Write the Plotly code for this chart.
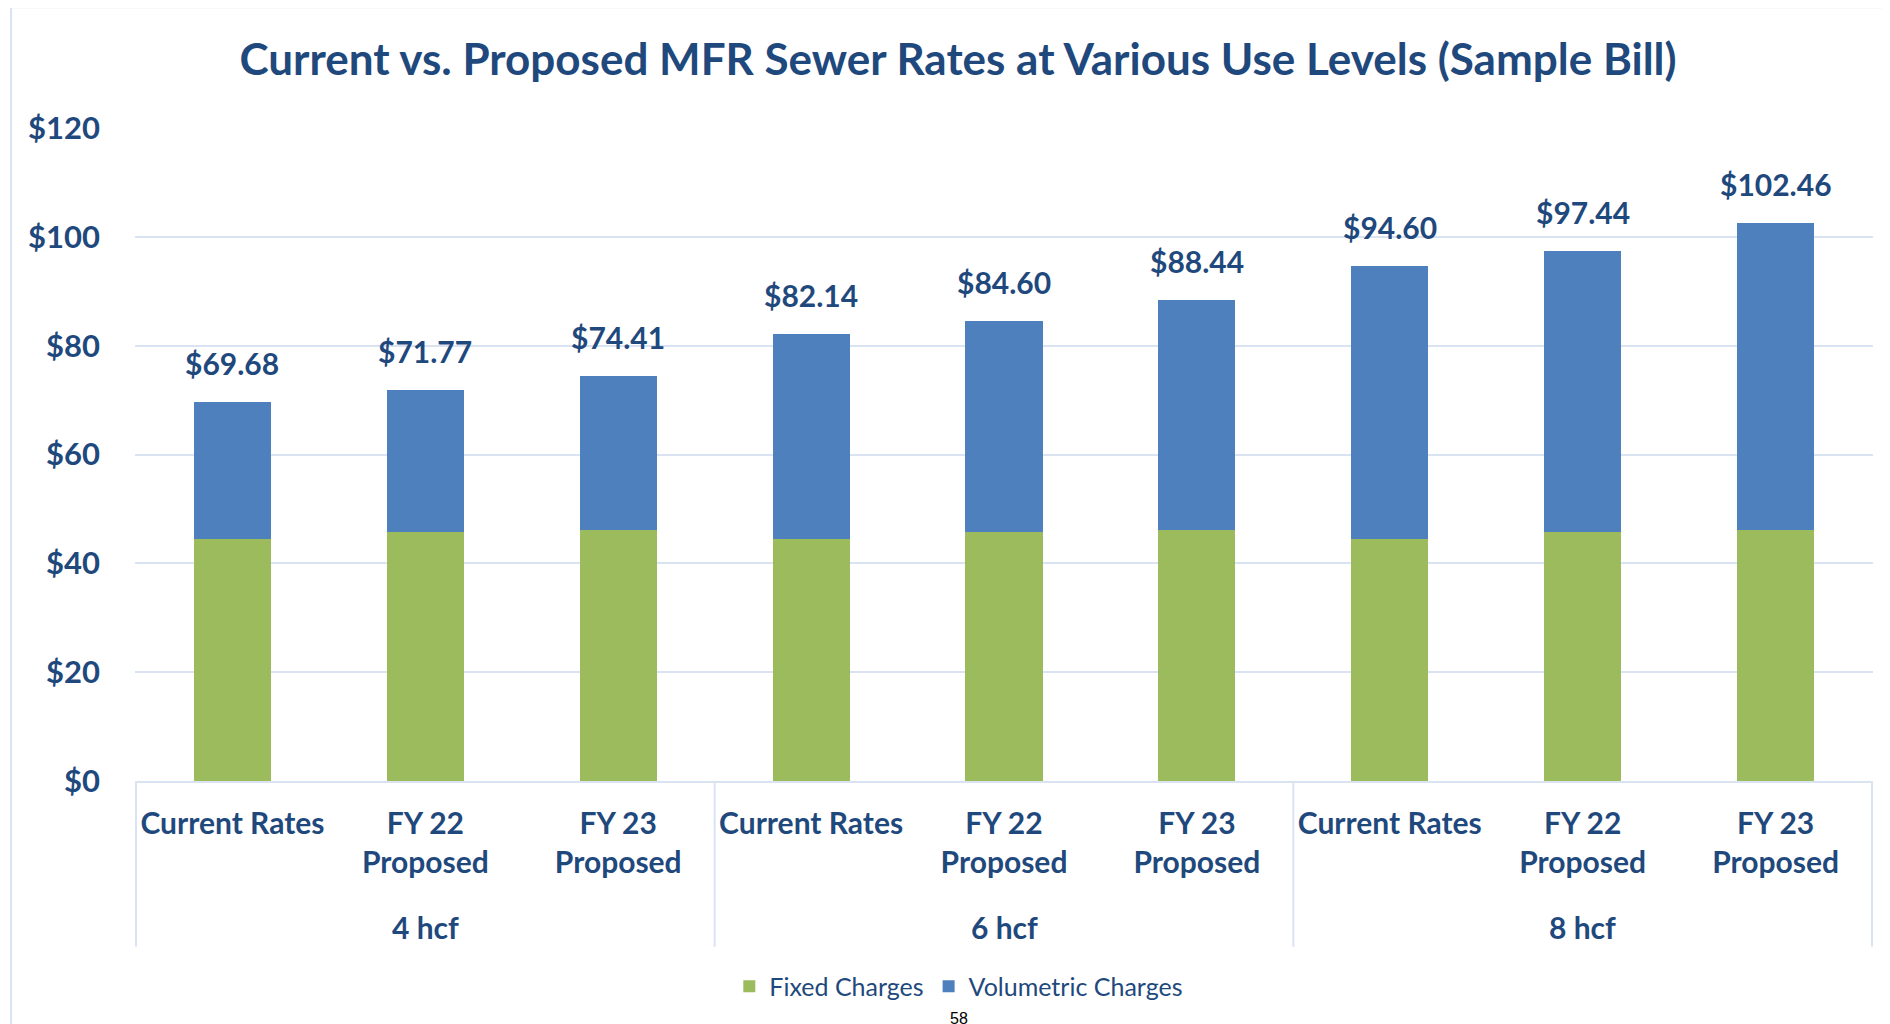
import plotly.graph_objects as go

# data
use_levels = ["4 hcf"] * 3 + ["6 hcf"] * 3 + ["8 hcf"] * 3
rate_types = ["Current Rates", "FY 22<br>Proposed", "FY 23<br>Proposed"] * 3
fixed_charges = [44.50, 45.80, 46.20, 44.50, 45.80, 46.20, 44.50, 45.80, 46.20]
volumetric_charges = [25.18, 25.97, 28.21, 37.64, 38.80, 42.24, 50.10, 51.64, 56.26]
total_bill = [69.68, 71.77, 74.41, 82.14, 84.60, 88.44, 94.60, 97.44, 102.46]

NAVY = "#1F497D"
GRID = "#D9E3F1"
FONT = "Lato"

# unique category keys (rate types repeat across use levels)
keys = [f"{lvl} | {rt}" for lvl, rt in zip(use_levels, rate_types)]

fig = go.Figure()

fig.add_trace(go.Bar(
    name="Fixed Charges",
    x=keys,
    y=fixed_charges,
    marker=dict(color="#9BBB5C", line=dict(width=0)),
))
fig.add_trace(go.Bar(
    name="Volumetric Charges",
    x=keys,
    y=volumetric_charges,
    marker=dict(color="#4E80BE", line=dict(width=0)),
))

# total labels above each stack
for k, total in zip(keys, total_bill):
    fig.add_annotation(
        x=k, y=total, text=f"${total:,.2f}",
        showarrow=False, yanchor="middle", yshift=39,
        font=dict(family=FONT, size=30, color=NAVY, weight="bold"),
    )

# group labels and dividers under the axis
shapes = []
groups = list(dict.fromkeys(use_levels))
start = 0
for g in groups:
    n = use_levels.count(g)
    fig.add_annotation(
        x=keys[start + n // 2], y=-0.2236, yref="paper", text=g,
        showarrow=False, yanchor="middle",
        font=dict(family=FONT, size=30, color=NAVY, weight="bold"),
    )
    shapes.append(dict(type="line", xref="x", yref="paper",
                       x0=start - 0.5, x1=start - 0.5, y0=0, y1=-0.254,
                       line=dict(color=GRID, width=2)))
    start += n
shapes.append(dict(type="line", xref="x", yref="paper",
                   x0=start - 0.5, x1=start - 0.5, y0=0, y1=-0.254,
                   line=dict(color=GRID, width=2)))

# chart border
shapes.append(dict(
    type="rect", xref="paper", yref="paper",
    x0=-0.0713, x1=1.2, y0=-0.6, y1=1.185,
    line=dict(color=GRID, width=2), fillcolor="rgba(0,0,0,0)", layer="below",
))

# page number at the bottom
fig.add_annotation(
    x=0.474, y=-0.347, xref="paper", yref="paper",
    text="58", showarrow=False, xanchor="center", yanchor="top",
    font=dict(family="Liberation Sans", size=16, color="black"),
)

fig.update_layout(
    width=1890,
    height=1024,
    barmode="stack",
    bargap=0.6,
    paper_bgcolor="white",
    plot_bgcolor="white",
    margin=dict(l=127, r=25, t=120, b=251),
    title=dict(
        text="Current vs. Proposed MFR Sewer Rates at Various Use Levels (Sample Bill)",
        x=950 / 1890, xanchor="center", y=1 - 52 / 1024, yanchor="middle",
        font=dict(family=FONT, size=44, color=NAVY, weight="bold"),
    ),
    font=dict(family=FONT, color=NAVY),
    xaxis=dict(
        type="category",
        tickvals=keys, ticktext=rate_types,
        showline=True, linecolor=GRID, linewidth=2,
        showgrid=False, ticks="",
        ticklabelstandoff=15,
        tickfont=dict(family=FONT, size=30, color=NAVY, weight="bold"),
    ),
    yaxis=dict(
        range=[0, 120], dtick=20,
        tickprefix="$", tickformat=",.0f",
        showgrid=True, gridcolor=GRID, gridwidth=2,
        zeroline=False, showline=False,
        ticklabelstandoff=34,
        tickfont=dict(family=FONT, size=31, color=NAVY, weight="bold"),
    ),
    legend=dict(
        orientation="h", x=0.474, xanchor="center", y=-0.3146, yanchor="middle",
        font=dict(family=FONT, size=25, color=NAVY),
        traceorder="normal",
    ),
    shapes=shapes,
)

fig.write_html("out.html")
